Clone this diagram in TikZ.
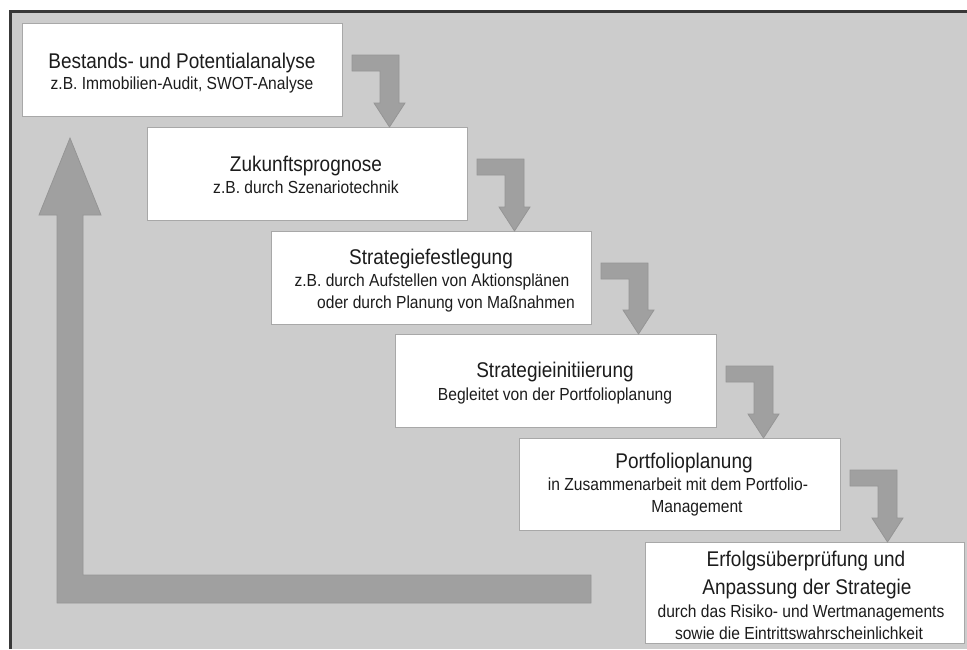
\documentclass[tikz,border=0pt]{standalone}
\usepackage{fontspec}
\setmainfont{Liberation Sans}
\usetikzlibrary{calc}
\definecolor{panelgray}{HTML}{CCCCCC}
\definecolor{framedark}{HTML}{383838}
\definecolor{arrowgray}{HTML}{A0A0A0}
\definecolor{arrowedge}{HTML}{959595}
\definecolor{boxedge}{HTML}{A8A8A8}
\definecolor{inkgray}{HTML}{1C1C1C}
% slightly tall lettering
\newcommand\talltext[1]{\scalebox{1}[1.12]{#1}}
\tikzset{
  stagebox/.style={draw=boxedge, line width=1pt, fill=white, inner sep=0pt,
    minimum width=320pt, minimum height=93pt, anchor=north west},
  blockarrow/.style={fill=arrowgray, draw=arrowedge, line width=0.8pt, line join=miter},
  headline/.style={anchor=base, inner sep=0pt, text=inkgray,
    font=\fontsize{19}{19}\selectfont},
  subline/.style={anchor=base, inner sep=0pt, text=inkgray,
    font=\fontsize{15.6}{15.6}\selectfont},
}
\begin{document}
\begin{tikzpicture}[x=1pt, y=-1pt]
\useasboundingbox (0,0) rectangle (967,649);

% panel with dark frame on the left and top
\fill[panelgray] (10.5,11.5) rectangle (967,649);
\draw[framedark, line width=3pt] (10.5,649) -- (10.5,11.5) -- (967,11.5);

% process stages
\node[stagebox] (b1) at (22,23) {};
\node[stagebox] (b2) at (147,127) {};
\node[stagebox] (b3) at (271,231) {};
\node[stagebox, minimum width=321pt] (b4) at (395,334) {};
\node[stagebox, minimum width=321pt, minimum height=92pt] (b5) at (519,438) {};
\node[stagebox, minimum width=319pt, minimum height=101pt] (b6) at (645,542) {};

% stage texts
\node[headline] (t1a) at (182,68) {\talltext{Bestands- und Potentialanalyse}};
\node[subline]  (t1b) at (182,89) {\talltext{z.B. Immobilien-Audit, SWOT-Analyse}};

\node[headline] (t2a) at (306,171) {\talltext{Zukunftsprognose}};
\node[subline]  (t2b) at (306,193) {\talltext{z.B. durch Szenariotechnik}};

\node[headline] (t3a) at (431,264) {\talltext{Strategiefestlegung}};
\node[subline]  (t3b) at (432,286) {\talltext{z.B. durch Aufstellen von Aktionsplänen}};
\node[subline]  (t3c) at (446,308) {\talltext{oder durch Planung von Maßnahmen}};

\node[headline] (t4a) at (555,377) {\talltext{Strategieinitiierung}};
\node[subline]  (t4b) at (555,400) {\talltext{Begleitet von der Portfolioplanung}};

\node[headline] (t5a) at (684,468) {\talltext{Portfolioplanung}};
\node[subline]  (t5b) at (678,490) {\talltext{in Zusammenarbeit mit dem Portfolio-}};
\node[subline]  (t5c) at (697,512) {\talltext{Management}};

\node[headline] (t6a) at (806,566) {\talltext{Erfolgsüberprüfung und}};
\node[headline] (t6b) at (807,594) {\talltext{Anpassung der Strategie}};
\node[subline]  (t6c) at (801,617) {\talltext{durch das Risiko- und Wertmanagements}};
\node[subline]  (t6d) at (799,639) {\talltext{sowie die Eintrittswahrscheinlichkeit}};

% bent block arrows from each stage down to the next
\foreach \a/\b in {b1/b2, b2/b3, b3/b4, b4/b5, b5/b6}{
  \draw[blockarrow] let \p1=(\a.north east), \p2=(\b.north) in
    (\x1+9pt,\y1-32pt) -- (\x1+56pt,\y1-32pt) -- (\x1+56pt,\y2+24pt)
    -- (\x1+62pt,\y2+24pt) -- (\x1+46.5pt,\y2) -- (\x1+31pt,\y2+24pt)
    -- (\x1+37pt,\y2+24pt) -- (\x1+37pt,\y1-48pt) -- (\x1+9pt,\y1-48pt) -- cycle;
}

% feedback arrow back up to the first stage
\coordinate (fbend) at (591,589);
\coordinate (fbtip) at (70,138);
\draw[blockarrow] (fbend |- 0,575) -- (fbend |- 0,603) -- (57,603) -- (57,215)
  -- (39,215) -- (fbtip) -- (101,215) -- (83,215) -- (83,575) -- cycle;
\end{tikzpicture}
\end{document}
